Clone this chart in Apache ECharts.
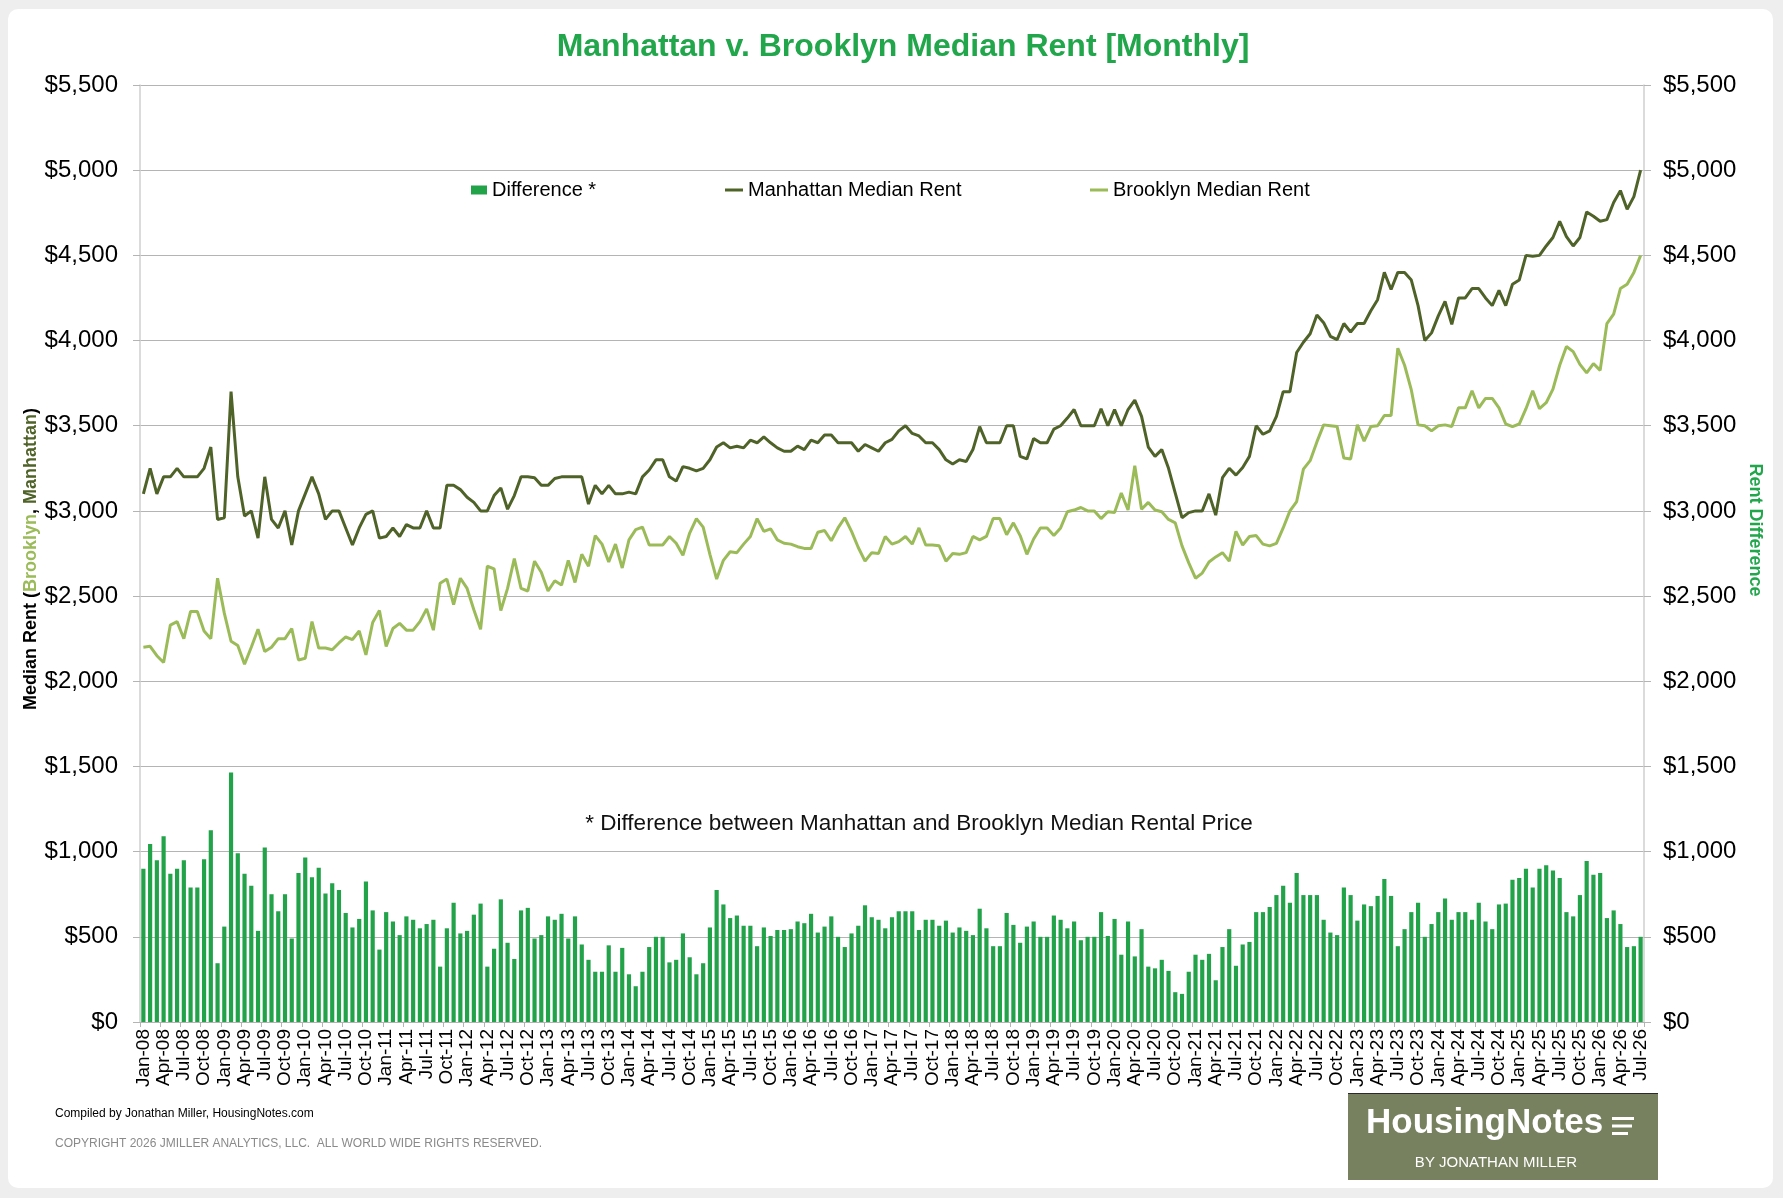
<!DOCTYPE html>
<html>
<head>
<meta charset="utf-8">
<script src="https://cdn.jsdelivr.net/npm/echarts@6/dist/echarts.min.js"></script>
<style>
html,body{margin:0;padding:0;background:#eeeeee;width:1783px;height:1198px;overflow:hidden;}
#panel{position:absolute;left:8px;top:9px;width:1765px;height:1179px;background:#ffffff;border-radius:10px;}
#chart{position:absolute;left:0;top:0;width:1783px;height:1198px;}
</style>
</head>
<body>
<div id="panel"></div>
<div id="chart"></div>
<script>
const categories = [
'Jan-08','Feb-08','Mar-08','Apr-08','May-08','Jun-08','Jul-08','Aug-08','Sep-08','Oct-08','Nov-08','Dec-08',
'Jan-09','Feb-09','Mar-09','Apr-09','May-09','Jun-09','Jul-09','Aug-09','Sep-09','Oct-09','Nov-09','Dec-09',
'Jan-10','Feb-10','Mar-10','Apr-10','May-10','Jun-10','Jul-10','Aug-10','Sep-10','Oct-10','Nov-10','Dec-10',
'Jan-11','Feb-11','Mar-11','Apr-11','May-11','Jun-11','Jul-11','Aug-11','Sep-11','Oct-11','Nov-11','Dec-11',
'Jan-12','Feb-12','Mar-12','Apr-12','May-12','Jun-12','Jul-12','Aug-12','Sep-12','Oct-12','Nov-12','Dec-12',
'Jan-13','Feb-13','Mar-13','Apr-13','May-13','Jun-13','Jul-13','Aug-13','Sep-13','Oct-13','Nov-13','Dec-13',
'Jan-14','Feb-14','Mar-14','Apr-14','May-14','Jun-14','Jul-14','Aug-14','Sep-14','Oct-14','Nov-14','Dec-14',
'Jan-15','Feb-15','Mar-15','Apr-15','May-15','Jun-15','Jul-15','Aug-15','Sep-15','Oct-15','Nov-15','Dec-15',
'Jan-16','Feb-16','Mar-16','Apr-16','May-16','Jun-16','Jul-16','Aug-16','Sep-16','Oct-16','Nov-16','Dec-16',
'Jan-17','Feb-17','Mar-17','Apr-17','May-17','Jun-17','Jul-17','Aug-17','Sep-17','Oct-17','Nov-17','Dec-17',
'Jan-18','Feb-18','Mar-18','Apr-18','May-18','Jun-18','Jul-18','Aug-18','Sep-18','Oct-18','Nov-18','Dec-18',
'Jan-19','Feb-19','Mar-19','Apr-19','May-19','Jun-19','Jul-19','Aug-19','Sep-19','Oct-19','Nov-19','Dec-19',
'Jan-20','Feb-20','Mar-20','Apr-20','May-20','Jun-20','Jul-20','Aug-20','Sep-20','Oct-20','Nov-20','Dec-20',
'Jan-21','Feb-21','Mar-21','Apr-21','May-21','Jun-21','Jul-21','Aug-21','Sep-21','Oct-21','Nov-21','Dec-21',
'Jan-22','Feb-22','Mar-22','Apr-22','May-22','Jun-22','Jul-22','Aug-22','Sep-22','Oct-22','Nov-22','Dec-22',
'Jan-23','Feb-23','Mar-23','Apr-23','May-23','Jun-23','Jul-23','Aug-23','Sep-23','Oct-23','Nov-23','Dec-23',
'Jan-24','Feb-24','Mar-24','Apr-24','May-24','Jun-24','Jul-24','Aug-24','Sep-24','Oct-24','Nov-24','Dec-24',
'Jan-25','Feb-25','Mar-25','Apr-25','May-25','Jun-25','Jul-25','Aug-25','Sep-25','Oct-25','Nov-25','Dec-25',
'Jan-26','Feb-26','Mar-26','Apr-26','May-26','Jun-26','Jul-26'
];

const manhattan = [
3100,3250,3100,3200,3200,3250,3200,3200,3200,3250,3375,2950,
2960,3700,3200,2970,3000,2840,3200,2950,2900,3000,2800,3000,
3100,3200,3100,2950,3000,3000,2900,2800,2900,2980,3000,2840,
2850,2900,2850,2920,2900,2900,3000,2900,2900,3150,3150,3125,
3080,3050,3000,3000,3090,3135,3010,3090,3200,3200,3195,3150,
3150,3190,3200,3200,3200,3200,3040,3150,3100,3150,3100,3100,
3110,3100,3200,3240,3300,3300,3200,3175,3260,3250,3235,3250,
3300,3375,3400,3370,3380,3370,3415,3400,3435,3400,3370,3350,
3350,3380,3360,3415,3400,3445,3445,3400,3400,3400,3350,3390,
3370,3350,3400,3420,3470,3500,3455,3440,3400,3400,3360,3300,
3275,3300,3290,3360,3495,3400,3400,3400,3500,3500,3320,3305,
3425,3400,3400,3480,3500,3545,3595,3500,3500,3500,3600,3500,
3595,3500,3595,3650,3555,3375,3320,3360,3250,3105,2960,2990,
3000,3000,3100,2975,3195,3250,3210,3255,3320,3500,3450,3470,
3555,3700,3700,3930,3990,4040,4150,4105,4025,4005,4100,4050,
4100,4100,4175,4240,4400,4300,4400,4400,4355,4205,4000,4045,
4145,4230,4095,4250,4250,4305,4305,4250,4205,4295,4205,4330,
4355,4500,4495,4500,4555,4605,4700,4610,4555,4605,4755,4730,
4700,4710,4810,4880,4770,4845,5000
];

const brooklyn = [
2200,2205,2150,2110,2330,2350,2250,2410,2410,2295,2250,2605,
2400,2235,2210,2100,2200,2305,2175,2200,2250,2250,2310,2125,
2135,2350,2195,2195,2185,2225,2260,2245,2295,2155,2345,2415,
2205,2310,2340,2300,2300,2350,2425,2300,2575,2600,2450,2605,
2545,2420,2305,2675,2660,2415,2545,2720,2545,2530,2705,2640,
2530,2590,2565,2710,2580,2745,2675,2855,2805,2700,2805,2665,
2830,2890,2905,2800,2800,2800,2850,2810,2740,2870,2955,2905,
2745,2600,2710,2760,2755,2805,2850,2955,2880,2895,2830,2810,
2805,2790,2780,2780,2875,2885,2825,2900,2960,2880,2785,2705,
2755,2750,2850,2805,2820,2850,2805,2900,2800,2800,2795,2705,
2750,2745,2755,2850,2830,2850,2955,2955,2860,2930,2855,2745,
2835,2900,2900,2855,2900,2995,3005,3020,3000,3000,2955,2995,
2990,3105,3005,3265,3010,3050,3005,2995,2950,2930,2795,2695,
2605,2635,2700,2730,2755,2705,2880,2800,2850,2855,2805,2795,
2810,2900,3000,3055,3245,3295,3405,3505,3500,3495,3310,3305,
3505,3410,3495,3500,3560,3560,3955,3855,3710,3505,3500,3470,
3500,3505,3495,3605,3605,3705,3605,3660,3660,3605,3510,3495,
3510,3600,3705,3600,3635,3715,3855,3965,3935,3860,3810,3865,
3825,4100,4155,4305,4330,4400,4500
];

const difference = [
900,1045,950,1090,870,900,950,790,790,955,1125,345,
560,1465,990,870,800,535,1025,750,650,750,490,875,
965,850,905,755,815,775,640,555,605,825,655,425,
645,590,510,620,600,550,575,600,325,550,700,520,
535,630,695,325,430,720,465,370,655,670,490,510,
620,600,635,490,620,455,365,295,295,450,295,435,
280,210,295,440,500,500,350,365,520,380,280,345,
555,775,690,610,625,565,565,445,555,505,540,540,
545,590,580,635,525,560,620,500,440,520,565,685,
615,600,550,615,650,650,650,540,600,600,565,595,
525,555,535,510,665,550,445,445,640,570,465,560,
590,500,500,625,600,550,590,480,500,500,645,505,
605,395,590,385,545,325,315,365,300,175,165,295,
395,365,400,245,440,545,330,455,470,645,645,675,
745,800,700,875,745,745,745,600,525,510,790,745,
595,690,680,740,840,740,445,545,645,700,500,575,
645,725,600,645,645,600,700,590,545,690,695,835,
845,900,790,900,920,890,845,645,620,745,945,865,
875,610,655,575,440,445,500
];

const yTicks = { min: 0, max: 5500, interval: 500 };

const FONT = '"Liberation Sans", Arial, Helvetica, sans-serif';
const GREEN = '#21a64b';
const BAR = '#22a34a';
const DARK = '#4f6228';
const LIGHT = '#9bbb59';
const GRID = '#b4b4b4';

const money = v => '$' + v.toLocaleString('en-US');

const chart = echarts.init(document.getElementById('chart'), null, { renderer: 'canvas' });

const yAxisBase = {
  type: 'value',
  min: yTicks.min, max: yTicks.max, interval: yTicks.interval,
  axisLine: { show: true, lineStyle: { color: '#cfcfcf', width: 1.5 } },
  axisTick: { show: true, length: 7, lineStyle: { color: GRID } },
  axisLabel: { formatter: money, fontSize: 24, color: '#000', fontFamily: FONT }
};

const legendText = { fontSize: 20, color: '#000', fontFamily: FONT };

chart.setOption({
  animation: false,
  backgroundColor: 'transparent',
  textStyle: { fontFamily: FONT },
  grid: { left: 140, right: 139, top: 85, bottom: 176, containLabel: false },
  legend: [
    { left: 466, top: 175, itemWidth: 16, itemHeight: 9, icon: 'rect',
      textStyle: legendText, data: ['Difference *'] },
    { left: 720, top: 175, itemWidth: 18, itemHeight: 3, icon: 'rect',
      textStyle: legendText, data: ['Manhattan Median Rent'] },
    { left: 1085, top: 175, itemWidth: 18, itemHeight: 3, icon: 'rect',
      textStyle: legendText, data: ['Brooklyn Median Rent'] }
  ],
  xAxis: {
    type: 'category',
    data: categories,
    boundaryGap: true,
    axisLine: { show: true, lineStyle: { color: GRID } },
    axisTick: { show: true, interval: 2, length: 5, lineStyle: { color: GRID } },
    axisLabel: { interval: 2, rotate: 90, fontSize: 19, color: '#000', margin: 7, fontFamily: FONT },
    splitLine: { show: false }
  },
  yAxis: [
    Object.assign({}, yAxisBase, {
      position: 'left',
      splitLine: { show: true, lineStyle: { color: GRID, width: 1 } },
      axisLabel: Object.assign({}, yAxisBase.axisLabel, { margin: 22 })
    }),
    Object.assign({}, yAxisBase, {
      position: 'right',
      splitLine: { show: false },
      axisLabel: Object.assign({}, yAxisBase.axisLabel, { margin: 19 })
    })
  ],
  series: [
    {
      name: 'Difference *', type: 'bar', yAxisIndex: 1,
      data: difference, barWidth: '62%',
      itemStyle: { color: BAR }, z: 2
    },
    {
      name: 'Manhattan Median Rent', type: 'line', yAxisIndex: 0,
      data: manhattan, symbol: 'none', showSymbol: false,
      lineStyle: { color: DARK, width: 3 }, itemStyle: { color: DARK }, z: 3
    },
    {
      name: 'Brooklyn Median Rent', type: 'line', yAxisIndex: 0,
      data: brooklyn, symbol: 'none', showSymbol: false,
      lineStyle: { color: LIGHT, width: 3 }, itemStyle: { color: LIGHT }, z: 4
    }
  ],
  graphic: [
    {
      type: 'text', x: 903, y: 47,
      style: { text: 'Manhattan v. Brooklyn Median Rent [Monthly]', fill: GREEN,
        font: 'bold 32px ' + FONT, textAlign: 'center', textVerticalAlign: 'middle' }
    },
    {
      type: 'text', x: 31, y: 559, rotation: Math.PI / 2,
      style: {
        text: '{a|Median Rent (}{b|Brooklyn}{a|, }{c|Manhattan}{a|)}',
        textAlign: 'center', textVerticalAlign: 'middle',
        font: 'bold 18px ' + FONT,
        rich: {
          a: { fill: '#000', font: 'bold 18px ' + FONT },
          b: { fill: LIGHT, font: 'bold 18px ' + FONT },
          c: { fill: DARK, font: 'bold 18px ' + FONT }
        }
      }
    },
    {
      type: 'text', x: 1755, y: 530, rotation: -Math.PI / 2,
      style: { text: 'Rent Difference', fill: GREEN, font: 'bold 18px ' + FONT,
        textAlign: 'center', textVerticalAlign: 'middle' }
    },
    {
      type: 'text', x: 919, y: 824,
      style: { text: '* Difference between Manhattan and Brooklyn Median Rental Price', fill: '#111',
        font: '22.5px ' + FONT, textAlign: 'center', textVerticalAlign: 'middle' }
    },
    {
      type: 'text', x: 55, y: 1114,
      style: { text: 'Compiled by Jonathan Miller, HousingNotes.com', fill: '#000',
        font: '12px ' + FONT, textAlign: 'left', textVerticalAlign: 'middle' }
    },
    {
      type: 'text', x: 55, y: 1144,
      style: { text: 'COPYRIGHT 2026 JMILLER ANALYTICS, LLC.  ALL WORLD WIDE RIGHTS RESERVED.', fill: '#8a8a8a',
        font: '12px ' + FONT, textAlign: 'left', textVerticalAlign: 'middle' }
    },
    {
      type: 'rect', shape: { x: 1348, y: 1093, width: 310, height: 87 },
      style: { fill: '#77815f' }, z: 10
    },
    {
      type: 'line', shape: { x1: 1348, y1: 1093.5, x2: 1658, y2: 1093.5 },
      style: { stroke: '#2a2a2a', lineWidth: 1 }, z: 11
    },
    {
      type: 'text', x: 1366, y: 1123, z: 11,
      style: { text: 'HousingNotes', fill: '#ffffff', font: 'bold 35px ' + FONT,
        textAlign: 'left', textVerticalAlign: 'middle' }
    },
    { type: 'rect', shape: { x: 1612, y: 1117, width: 22, height: 3 }, style: { fill: '#ffffff' }, z: 11 },
    { type: 'rect', shape: { x: 1612, y: 1124.5, width: 20, height: 3 }, style: { fill: '#ffffff' }, z: 11 },
    { type: 'rect', shape: { x: 1612, y: 1132, width: 16, height: 3 }, style: { fill: '#ffffff' }, z: 11 },
    {
      type: 'text', x: 1496, y: 1163, z: 11,
      style: { text: 'BY JONATHAN MILLER', fill: '#ffffff', font: '15px ' + FONT,
        textAlign: 'center', textVerticalAlign: 'middle' }
    }
  ]
});
</script>
</body>
</html>
